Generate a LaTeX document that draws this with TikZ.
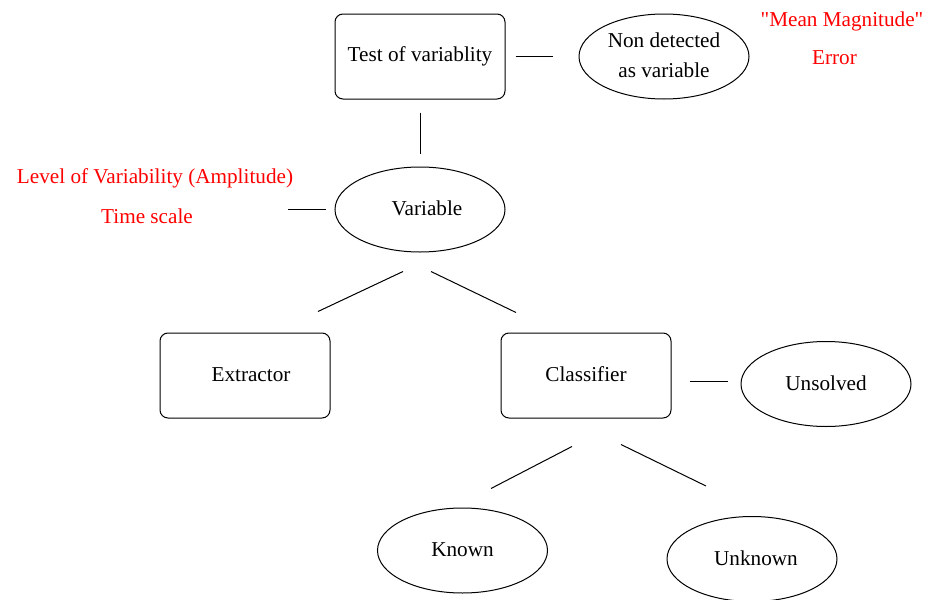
\documentclass[tikz,border=0pt]{standalone}
\usepackage{fontspec}
\setmainfont{Liberation Serif}
\newfontfamily\plainquote{Liberation Serif}
\usetikzlibrary{shapes.geometric,positioning}

\begin{document}
\begin{tikzpicture}[x=0.5pt, y=-0.5pt, line width=0.5pt, font=\fontsize{10.6}{12.7}\selectfont,
  box/.style={draw, rectangle, rounded corners=4pt, minimum width=85pt, minimum height=42.5pt, inner sep=0pt},
  oval/.style={draw, ellipse, minimum width=85pt, minimum height=42.5pt, inner sep=0pt},
  note/.style={text=red, inner sep=0pt}]
\useasboundingbox (0,0) rectangle (928,600);
% Define nodes
\node (test) [box] at (420,56.5) {\raisebox{1pt}{Test of variablity}};
\node (nondet) [oval, align=center, right=36.5pt of test] {\raisebox{1.5pt}{Non detected}\\[2.4pt]\raisebox{1.5pt}{as variable}};
\node (variable) [oval, below=33.5pt of test] {\hspace{7pt}\raisebox{1pt}{Variable}};
\node (extractor) [box] at (245,375.5) {\hspace{6pt}\raisebox{1pt}{Extractor}};
\node (classifier) [box] at (586,375.5) {\raisebox{1pt}{Classifier}};
\node (unsolved) [oval, right=34.5pt of classifier, yshift=-4.25pt] {\raisebox{1pt}{Unsolved}};
\node (known) [oval] at (462.5,550.5) {\raisebox{1pt}{Known}};
\node (unknown) [oval] at (752,559) {\hspace{4pt}\raisebox{1pt}{Unknown}};

% Red notes
\node (mean) [note] at (842,21) {{\plainquote"}Mean Magnitude{\plainquote"}};
\node (error) [note] at (834.5,58) {Error};
\node (level) [note] at (155,178) {Level of Variability (Amplitude)};
\node (timescale) [note] at (147,216) {Time scale};

% Connectors, drawn with gaps as in the sketch
\draw ([shift={(10,0)}]test.east) -- ([shift={(-26,0)}]nondet.west);
\draw ([shift={(0,13)}]test.south) -- ([shift={(0,-13)}]variable.north);
\draw ([shift={(95,0)}]timescale.east |- variable.west) -- ([shift={(-9,0)}]variable.west);
\draw ([shift={(-17,19)}]variable.south) -- ([shift={(73,-21)}]extractor.north);
\draw ([shift={(11,19)}]variable.south) -- ([shift={(-70,-20)}]classifier.north);
\draw ([shift={(18,5.5)}]classifier.east) -- ([shift={(-13,-3)}]unsolved.west);
\draw ([shift={(-14,28)}]classifier.south) -- ([shift={(28.5,-19)}]known.north);
\draw ([shift={(35,26)}]classifier.south) -- ([shift={(-46,-30)}]unknown.north);
\end{tikzpicture}
\end{document}
